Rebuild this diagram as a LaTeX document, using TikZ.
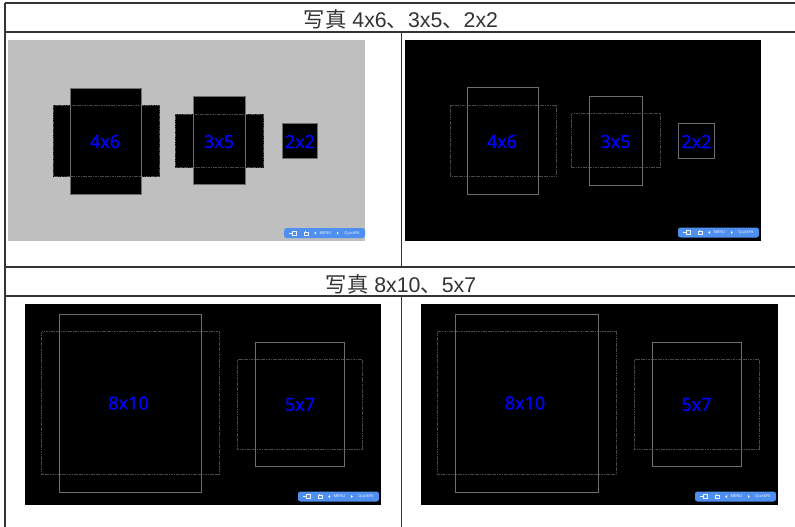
\documentclass[tikz,border=0pt]{standalone}
\usepackage{fontspec}
\setmainfont{Liberation Sans}
\newfontfamily\cjkfont{Noto Sans CJK SC}
\newfontfamily\labelfont{Noto Sans}[FakeBold=0.6]
\newfontfamily\barfont{Noto Sans}
\definecolor{rule}{HTML}{333333}
\definecolor{solidbox}{HTML}{6E6E6E}
\definecolor{dashbox}{HTML}{484848}
\definecolor{barblue}{HTML}{4F8FEF}
\definecolor{photogray}{HTML}{BFBFBF}
\tikzset{
  rulerline/.style={draw=rule,line width=1.5pt},
  solidrect/.style={draw=solidbox,line width=1pt},
  dashrect/.style={draw=dashbox,line width=0.9pt,dash pattern=on 1.2pt off 0.5pt},
  sizelabel/.style={text=blue,font=\labelfont\fontsize{18}{18}\selectfont,inner sep=0pt,anchor=center},
  titlelabel/.style={text=rule,font=\fontsize{21.3}{22}\selectfont,inner sep=0pt,anchor=center},
  bartext/.style={text=white!90!barblue,font=\barfont\bfseries\fontsize{4}{4}\selectfont,inner sep=0pt,anchor=center},
  baricon/.style={draw=white!90!barblue,line width=0.6pt},
}
\newcommand{\qfbar}[1]{%
  \begin{scope}[shift={(#1)}]
    \fill[barblue,rounded corners=2.5pt] (0,0) rectangle (81,10);
    \draw[baricon] (5,5) -- (8,5);
    \draw[baricon] (8.5,3) rectangle (12.5,7);
    \draw[baricon] (20,7.2) -- (20,4) -- (24.5,4) -- (24.5,7.2) -- cycle;
    \draw[baricon] (21,4) -- (22,2.6);
    \fill[white] (32,3.6) -- (32,6.4) -- (30.2,5) -- cycle;
    \node[bartext] at (41.5,5) {MENU};
    \fill[white] (53,3.6) -- (53,6.4) -- (54.8,5) -- cycle;
    \node[bartext] at (68,5) {QuickFit};
  \end{scope}}
\newcommand{\twinrects}[9]{% vx0 vx1 vy0 vy1 hx0 hx1 hy0 hy1 fill
  \filldraw[#9,line width=0.9pt] (#1,#3) rectangle (#2,#4);
  \filldraw[#9,line width=0.9pt] (#5,#7) rectangle (#6,#8);
  \draw[dashrect] (#5,#7) rectangle (#6,#8);
  \draw[solidrect] (#1,#3) rectangle (#2,#4);}
\begin{document}
\begin{tikzpicture}[x=1pt,y=-1pt]
\useasboundingbox (0,0) rectangle (795,527);
\fill[white] (0,0) rectangle (795,527);
% table rules
\draw[rulerline] (5,3) -- (795,3);
\draw[rulerline] (5,32) -- (795,32);
\draw[rulerline] (5,267) -- (795,267);
\draw[rulerline] (5,296) -- (795,296);
\draw[rulerline] (5,3) -- (5,527);
\draw[rulerline] (401.5,32) -- (401.5,267);
\draw[rulerline] (401.5,296) -- (401.5,527);
% titles
\node[titlelabel] (t1) at (401,19) {{\cjkfont 写真} 4x6{\cjkfont 、}3x5{\cjkfont 、}2x2};
\node[titlelabel] (t2) at (401,284) {{\cjkfont 写真} 8x10{\cjkfont 、}5x7};
% panel A
\fill[photogray] (8,40) rectangle (365,241);
\twinrects{70.7}{141}{88.3}{194}{53.3}{159.5}{105.3}{176.3}{black}
\twinrects{193}{245.5}{96.7}{184.7}{175.5}{263.5}{114}{167}{black}
\fill[black] (282.7,123.5) rectangle (317.3,158);
\draw[solidrect] (282.7,123.5) rectangle (317.3,158);
\node[sizelabel] (a1) at (105,141.5) {4x6};
\node[sizelabel] (a2) at (219,141.5) {3x5};
\node[sizelabel] (a3) at (300,141.5) {2x2};
\qfbar{284,228}
% panel B
\fill[black] (405,40) rectangle (761,241);
\twinrects{467}{538.5}{87.5}{194.5}{450}{556}{105.3}{176.5}{black}
\twinrects{589}{642.5}{96.5}{185}{571.5}{660}{113.5}{167}{black}
\draw[solidrect] (678.5,123) rectangle (714,158);
\node[sizelabel] (b1) at (502,141.5) {4x6};
\node[sizelabel] (b2) at (615.5,141.5) {3x5};
\node[sizelabel] (b3) at (696.5,141.5) {2x2};
\qfbar{678,227.5}
% panel C
\fill[black] (25,304) rectangle (381,505);
\twinrects{59.5}{201.5}{314.3}{492.5}{41.5}{219}{331.5}{474.5}{black}
\twinrects{255.5}{344.5}{342.5}{466.7}{237.5}{362.5}{359.5}{449}{black}
\node[sizelabel] (c1) at (128.5,403) {8x10};
\node[sizelabel] (c2) at (300,404.5) {5x7};
\qfbar{298,491.5}
% panel D
\fill[black] (421,304) rectangle (778,505);
\twinrects{455.3}{598}{314.3}{492.5}{437.5}{616}{331.5}{474.5}{black}
\twinrects{652}{741.5}{342.5}{466.7}{634.5}{759.5}{359.5}{449}{black}
\node[sizelabel] (d1) at (525,403) {8x10};
\node[sizelabel] (d2) at (696.5,404.5) {5x7};
\qfbar{695,491.5}
\end{tikzpicture}
\end{document}
